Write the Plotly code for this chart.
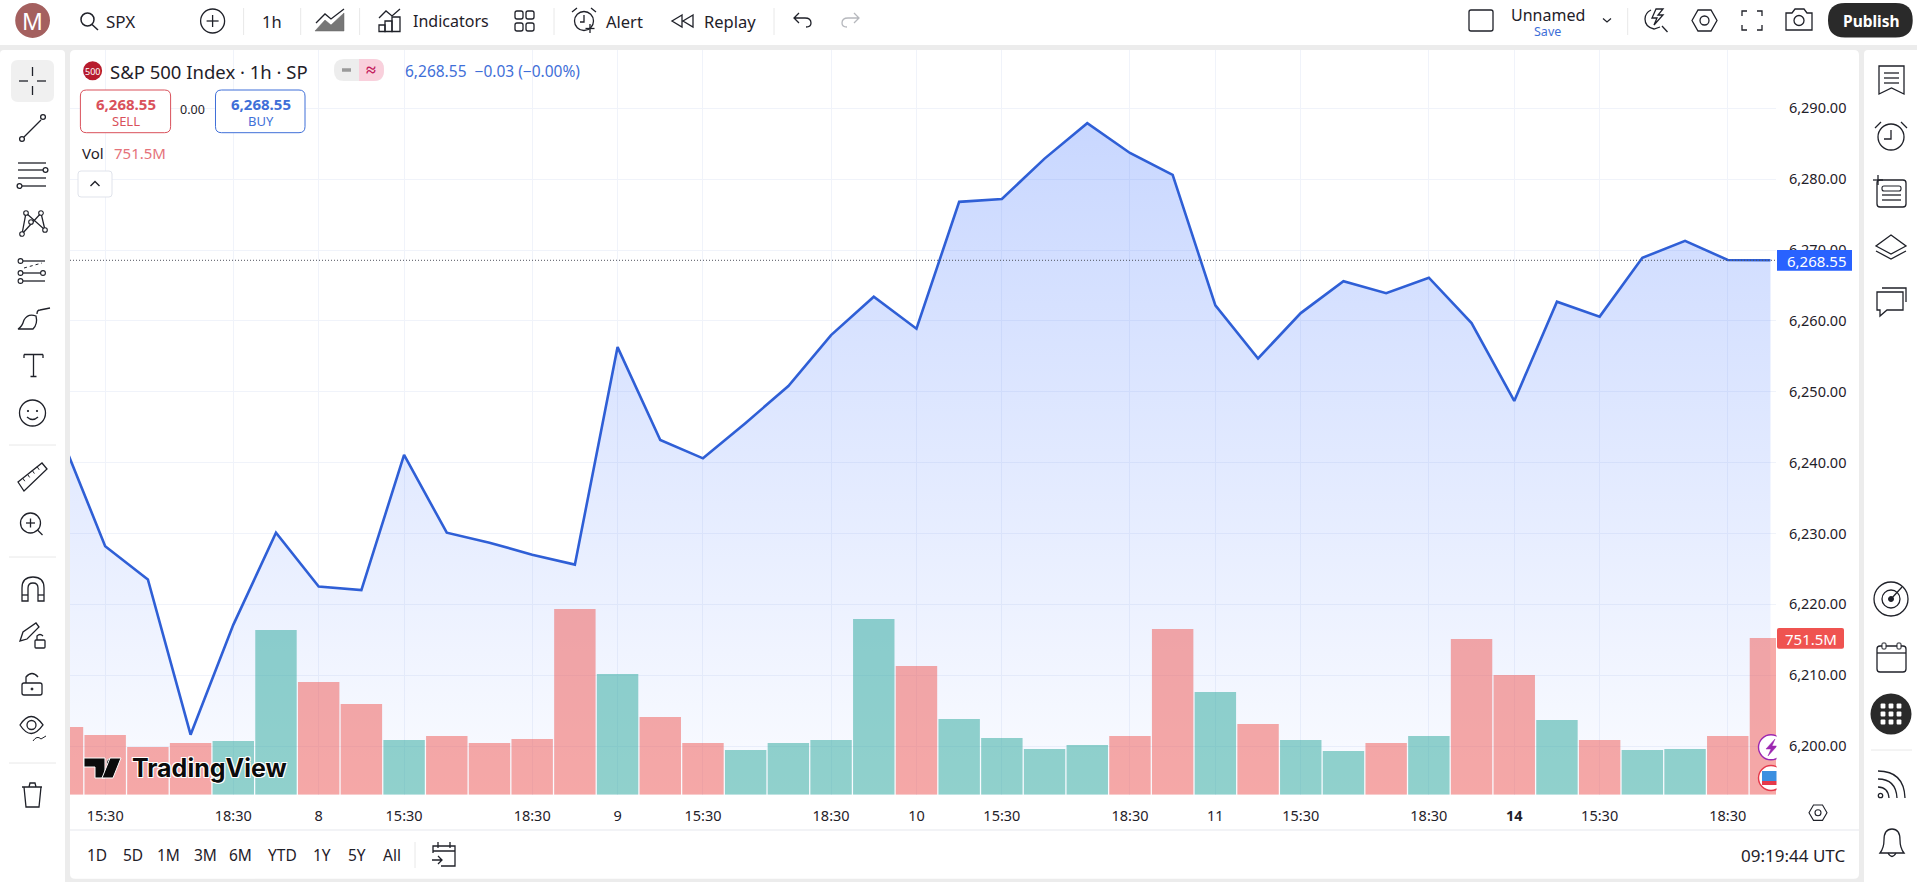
import re
import plotly.graph_objects as go

# hourly S&P 500 closes and volumes (millions)
close = [6243.2, 6228.2, 6223.5, 6201.6, 6217.1, 6230.1, 6222.5, 6222.0, 6241.1, 6230.1,
         6228.7, 6227.0, 6225.6, 6256.3, 6243.2, 6240.6, 6245.6, 6250.8, 6258.0, 6263.4,
         6258.9, 6276.8, 6277.2, 6282.9, 6287.9, 6283.7, 6280.6, 6262.2, 6254.7, 6261.1,
         6265.6, 6263.9, 6266.1, 6259.7, 6248.7, 6262.7, 6260.6, 6268.9, 6271.3, 6268.6, 6268.55]
volume = [325, 286, 229, 248, 258, 790, 540, 435, 262, 281,
          248, 267, 891, 579, 373, 248, 214, 248, 262, 843,
          617, 363, 272, 219, 238, 281, 795, 493, 339, 262,
          210, 248, 281, 747, 574, 358, 262, 214, 219, 281, 751.5]
vol_dir = ["d", "d", "d", "d", "u", "u", "d", "d", "u", "d",
           "d", "d", "d", "u", "d", "d", "u", "u", "u", "u",
           "d", "u", "u", "u", "u", "d", "d", "u", "d", "u",
           "u", "d", "u", "d", "d", "u", "d", "u", "u", "d", "d"]
time_ticks = [1, 4, 6, 8, 11, 13, 15, 18, 20, 22, 25, 27, 29, 32, 34, 36, 39]
time_labels = ["15:30", "18:30", "8", "15:30", "18:30", "9", "15:30", "18:30", "10",
               "15:30", "18:30", "11", "15:30", "18:30", "<b>14</b>", "15:30", "18:30"]
ranges = ["1D", "5D", "1M", "3M", "6M", "YTD", "1Y", "5Y", "All"]
range_x = [97, 133, 168, 205, 241, 282, 322, 357, 392]

W, H = 1917, 882
LEFT, RIGHT, TOP, BOTTOM = 70, 1776, 50, 794.7
FONT = "Noto Sans"
INK = "#1f2129"
GRID = "#f0f3fa"
BLUE = "#2962ff"
RED = "#ef5350"
PANEL_GAP = "#ececec"


def X(px):
    return px / W


def Y(py):
    return 1 - py / H


def P(d):
    # path written in screen pixels -> paper coordinates
    return re.sub(r"(-?[\d.]+) (-?[\d.]+)",
                  lambda m: f"{X(float(m[1])):.6f},{Y(float(m[2])):.6f}", d)


shapes = []
notes = []


def path(d, color=INK, width=1.3, fill=None, layer="above"):
    shapes.append(dict(type="path", xref="paper", yref="paper", path=P(d), layer=layer,
                       line=dict(color=color, width=width), fillcolor=fill or "rgba(0,0,0,0)"))


def seg(x0, y0, x1, y1, color=INK, width=1.3, dash="solid"):
    shapes.append(dict(type="line", xref="paper", yref="paper", layer="above",
                       x0=X(x0), x1=X(x1), y0=Y(y0), y1=Y(y1),
                       line=dict(color=color, width=width, dash=dash)))


def ring(cx, cy, r, color=INK, width=1.3, fill=None):
    shapes.append(dict(type="circle", xref="paper", yref="paper", layer="above",
                       x0=X(cx - r), x1=X(cx + r), y0=Y(cy + r), y1=Y(cy - r),
                       line=dict(color=color, width=width), fillcolor=fill or "rgba(0,0,0,0)"))


def box(x0, y0, x1, y1, r=0, color=INK, width=1.3, fill=None, layer="above"):
    d = (f"M{x0 + r} {y0} L{x1 - r} {y0} Q{x1} {y0} {x1} {y0 + r} L{x1} {y1 - r} "
         f"Q{x1} {y1} {x1 - r} {y1} L{x0 + r} {y1} Q{x0} {y1} {x0} {y1 - r} "
         f"L{x0} {y0 + r} Q{x0} {y0} {x0 + r} {y0} Z")
    path(d, color, width, fill, layer)


def label(x, y, text, size=14, color=INK, anchor="center", family=FONT, shadow=None):
    font = dict(size=size, color=color, family=family)
    if shadow:
        font["shadow"] = shadow
    notes.append(dict(xref="paper", yref="paper", x=X(x), y=Y(y), text=text, showarrow=False,
                      xanchor=anchor, yanchor="middle", borderpad=0, font=font))


# panels behind the chart
box(0, 0, W, 45, 0, "white", 0, "white", "below")
box(0, 50, 65, H + 5, 4, "white", 0, "white", "below")
box(LEFT, 50, 1859, 878.7, 5, "white", 0, "white", "below")
box(1864, 50, W + 5, H + 5, 4, "white", 0, "white", "below")

# top toolbar
ring(32.6, 20.5, 17.4, "#a4605f", 0, "#a4605f")
label(32.6, 20.5, "M", 23, "white")
ring(87.5, 19.5, 6.5, INK, 1.5)
seg(92, 24.5, 98, 30, INK, 1.5)
label(105, 21, "SPX", 17, anchor="left")
ring(212.6, 21, 12)
seg(212.6, 15, 212.6, 27)
seg(206.6, 21, 218.6, 21)
for sx in [243.6, 300.7, 359.6, 554, 774, 1627.7]:
    seg(sx, 8, sx, 35, "#e8e8e8", 1)
label(272, 21, "1h", 16.5)
path("M315 31 L325 20 L331 25 L344 13 L344 31 Z", "#666", 0.5, "#777")
path("M316 23 L325 14 L331 19 L344 9", INK, 1.3)
path("M379 18 L386 11 L392 16 L400 9", INK, 1.3)
box(379, 25, 385, 31.5, 0)
box(385, 21, 392, 31.5, 0)
box(392, 17, 400, 31.5, 0)
label(412, 21, "Indicators", 16, anchor="left")
for bx in [515, 526]:
    for by in [11, 23]:
        box(bx, by, bx + 8, by + 8, 2)
ring(584, 21, 9.5)
path("M584 15 L584 22 L580 22")
path("M572 12 L577 8 M596 12 L591 8")
seg(590, 24, 590, 33)
seg(585.5, 28.5, 594.5, 28.5)
label(605, 21, "Alert", 16.5, anchor="left")
path("M693 15 L683 21 L693 27 Z M682 15 L672 21 L682 27 Z")
label(703, 21, "Replay", 16.5, anchor="left")
path("M799 13 L794 18 L799 23 M794 18 L805 18 Q811 18 811 23 Q811 27 806 27")
path("M854 13 L859 18 L854 23 M859 18 L848 18 Q842 18 842 23 Q842 27 847 27", "#b6b8bd")
box(1469, 10, 1493, 31, 2)
label(1547.5, 15, "Unnamed", 16)
label(1547, 31, "Save", 12.5, "#3f6fd8")
path("M1603 18.5 L1607 22 L1611 18.5", INK, 1.2)
path("M1651 10 Q1645 13 1645 19 Q1645 27 1654 29 L1660 27")
path("M1656 9 L1652 18 L1657 18 L1654 25 L1663 15 L1658 15 L1663 9 Z")
seg(1662, 26, 1667.5, 32)
path("M1692 20.5 L1698 10 L1711 10 L1717 20.5 L1711 31 L1698 31 Z")
ring(1704.5, 20.5, 4.5)
path("M1742 16 L1742 11 L1747 11 M1757 11 L1762 11 L1762 16 M1762 25 L1762 30 L1757 30 M1747 30 L1742 30 L1742 25")
path("M1786 13 L1792 13 L1795 9 L1804 9 L1807 13 L1812 13 L1812 30 L1786 30 Z")
ring(1799, 20.5, 5)
box(1828, 3, 1912.7, 37.6, 17, "#2a2a2a", 0, "#2a2a2a")
label(1871, 21, "<b>Publish</b>", 15.5, "white")

# left toolbar
box(11, 60, 54, 102, 7, "#f0f0f0", 0, "#f0f0f0")
for a, b, c, d in [(32.5, 67, 32.5, 76), (32.5, 86, 32.5, 95), (19, 81, 28, 81), (37, 81, 46, 81)]:
    seg(a, b, c, d)
seg(24, 137, 41, 120)
ring(22, 139, 2.4)
ring(43, 117, 2.4)
seg(18, 163, 46, 163)
seg(18, 170, 43, 170)
ring(45.5, 170, 2.4)
seg(18, 178, 46, 178)
seg(22, 186, 46, 186)
ring(19.5, 186, 2.4)
path("M22 234 L26 213 L45 230 L41 213 L22 234")
for cx, cy in [(22, 234), (26, 213), (41, 213), (45, 230), (31, 222)]:
    ring(cx, cy, 2.3, INK, 1.1, "white")
seg(23, 261, 45, 261)
seg(23, 273, 45, 273)
seg(23, 281, 45, 281)
seg(24, 268, 42, 263, INK, 1, "dot")
for cx, cy in [(20.5, 261), (20.5, 273), (43, 273), (20.5, 281)]:
    ring(cx, cy, 2.4, INK, 1.1, "white")
path("M18 329 Q22 327 24 320 Q28 313 36 316 Q38 324 33 329 Z")
path("M37 314 Q37 310 40 310 L50 308")
path("M24 354.5 L43 354.5 M33.5 354.5 L33.5 376.5 M30.5 376.5 L36.5 376.5 M24 354.5 L24 358 M43 354.5 L43 358")
ring(32.5, 413, 13)
ring(28, 411, 0.7, INK, 1, INK)
ring(37, 411, 0.7, INK, 1, INK)
path("M27 417 Q32.5 422 38 417")
for sy in [445, 557, 763]:
    seg(9, sy, 56, sy, "#e8e8e8", 1)
path("M18 482 L42 463 L47 469 L24 491 Z")
for t in [0.2, 0.4, 0.6, 0.8]:
    seg(18 + 24 * t, 482 - 19 * t, 18 + 24 * t + 2, 482 - 19 * t + 3, INK, 1)
ring(30.5, 523, 10)
seg(37.5, 530, 42.5, 535)
seg(30.5, 518.5, 30.5, 527.5)
seg(26, 523, 35, 523)
path("M22 601 L22 588 Q22 577 33 577 Q44 577 44 588 L44 601 L38 601 L38 588 Q38 583 33 583 Q28 583 28 588 L28 601 Z")
seg(22, 595, 28, 595)
seg(38, 595, 44, 595)
path("M20 641 L23 632 L36 623 L39 627 L27 639 Z")
box(35, 640, 45, 648, 1)
path("M37 640 L37 636 Q40 633 43 636")
box(22, 683, 42, 695, 2)
path("M26 683 L26 677 Q32 670 38 677")
ring(32, 689, 1, INK, 1, INK)
path("M20 725 Q31 708 43 725 Q31 742 20 725 Z")
ring(31.5, 725, 4.5)
path("M33 741 Q37 735 41 739 L46 736", INK, 1)
path("M22 787 L42 787 M29 787 L30 783 L35 783 L36 787 M24 787 L26 807 L39 807 L41 787")

# right toolbar
path("M1879 66 L1904 66 L1904 94 L1891.5 88 L1879 94 Z")
for ly in [73, 78, 83]:
    seg(1884, ly, 1899, ly)
ring(1891, 137, 13)
path("M1891 130 L1891 139 L1884 139")
path("M1875 128 L1881 122 M1907 128 L1901 122")
box(1877, 180, 1906, 207, 3)
box(1882, 186, 1901, 191, 2, INK, 1.1)
seg(1882, 195, 1901, 195)
seg(1882, 200, 1901, 200)
seg(1873, 180, 1883, 180)
seg(1878, 175, 1878, 185)
path("M1891 235 L1906 246 L1891 254 L1876 246 Z")
path("M1876 251 L1891 259 L1906 251")
path("M1877 292 L1903 292 L1903 310 L1887 310 L1880 316 L1880 310 L1877 310 Z")
path("M1882 288 L1906 288 L1906 302")
ring(1891, 599, 17)
ring(1891, 599, 9)
ring(1891, 599, 2.5, INK, 1, INK)
seg(1891, 599, 1902, 587)
box(1877, 646, 1906, 672, 3)
seg(1877, 653, 1906, 653)
box(1882, 643, 1886, 649, 1, INK, 1, "white")
box(1897, 643, 1901, 649, 1, INK, 1, "white")
ring(1891, 714, 20.5, "#2a2a2a", 0, "#2a2a2a")
for dx in [-8, 0, 8]:
    for dy in [-8, 0, 8]:
        box(1891 + dx - 2.4, 714 + dy - 2.4, 1891 + dx + 2.4, 714 + dy + 2.4, 1, "white", 0, "white")
seg(1871, 750, 1912, 750, "#e8e8e8", 1)
ring(1880.5, 795.5, 2.2)
path("M1878 787 Q1888 787 1889 798 M1878 779 Q1896 779 1897 798 M1878 771 Q1904 771 1905 798")
path("M1880 853 Q1884 848 1884 840 Q1884 829 1892 829 Q1900 829 1900 840 Q1900 848 1904 853 Z")
path("M1888 853 Q1892 860 1896 853")

# legend block over the chart
ring(92.6, 70.7, 9.5, "#b71c2e", 0, "#b71c2e")
label(92.6, 71, "500", 9, "white")
label(108.5, 71, "S&P 500 Index · 1h · SP", 18.5, anchor="left")
box(334, 59, 384, 81, 10, "#ededed", 0, "#ededed")
path("M359 59 L374 59 Q384 59 384 70 Q384 81 374 81 L359 81 Z", "#f9d0dc", 0, "#f9d0dc")
seg(342, 70, 351, 70, "#9a9a9a", 3.5)
label(371, 69.5, "<b>≈</b>", 18, "#c2185b")
label(404, 71, f"{close[-1]:,.2f}  −0.03 (−0.00%)", 15.5, "#3f6fd8", "left")
box(80.4, 90, 170.6, 132.7, 6, "#d9515b", 1, "white")
label(125.5, 104, f"<b>{close[-1]:,.2f}</b>", 15, "#d9515b")
label(125.5, 121, "SELL", 13, "#d9515b")
label(192.6, 110, "0.00", 12.5)
box(215.5, 90, 305, 132.7, 6, "#3f6fd8", 1, "white")
label(260.5, 104, f"<b>{close[-1]:,.2f}</b>", 15, "#3f6fd8")
label(260.5, 121, "BUY", 13, "#3f6fd8")
label(81, 153, "Vol", 15, anchor="left")
label(113, 153, f"{volume[-1]}M", 15, "#e5727a", "left")
box(78, 171, 112, 197, 3, "#e0e3eb", 1, "white")
path("M90.5 186 L95 181.5 L99.5 186", INK, 1.4)

# TradingView mark
path("M84 758 L105 758 L105 778 L95 778 L95 767 L84 767 Z", "white", 1, "#0b0b0b")
ring(110.5, 762.5, 4, "white", 1, "#0b0b0b")
path("M113 778 L121 758 L110 758 L102 778 Z", "white", 1, "#0b0b0b")
label(131, 768, "<b>TradingView</b>", 25, "#0b0b0b", "left", "Inter",
      "1px 1px 0 white, -1px -1px 0 white, 1px -1px 0 white, -1px 1px 0 white")

# status and range bar
seg(LEFT, 830, 1859, 830, "#e6e8ee", 1.2)
for name, rx in zip(ranges, range_x):
    label(rx, 855, name, 15.5)
seg(415, 842, 415, 868, "#e8e8e8", 1)
path("M433 853 L433 846 L455 846 L455 866 L441 866 M433 851 L455 851 M438 842 L438 848 M450 842 L450 848")
path("M432 860 L442 860 M438 856 L442 860 L438 864")
label(1845.7, 855, "09:19:44 UTC", 17, anchor="right")
path("M1809 812.7 L1813.5 805 L1822.5 805 L1827 812.7 L1822.5 820.4 L1813.5 820.4 Z", INK, 1.1)
ring(1818, 812.7, 3, INK, 1.1)

# event badges sit on the last bar and get cut by the price scale
ring(1771, 747.3, 12.5, "#9c27b0", 1.4, "white")
path("M1775 739 L1766 749 L1771 749 L1768 756 L1777 746 L1772 746 Z", "#9c27b0", 0.5, "#9c27b0")
ring(1771, 778, 12.5, "#e5394b", 1.4, "white")
box(1762, 771, 1778, 781, 0, "#3b8fe0", 0, "#3b8fe0")
box(1762, 781, 1778, 785, 0, "#e5394b", 0, "#e5394b")
box(1776.5, 733, 1785, 793, 0, "white", 0, "white")

# price line and last value tags
shapes.append(dict(type="line", xref="paper", yref="y", layer="above",
                   x0=X(LEFT), x1=X(RIGHT), y0=close[-1], y1=close[-1],
                   line=dict(color="#50535e", width=1, dash="1px,2px")))
box(1777, 250, 1852, 270.7, 0, BLUE, 0, BLUE)
label(1816.5, 260.5, f"{close[-1]:,.2f}", 15, "white")
box(1777, 628, 1844, 648.7, 2, RED, 0, RED)
label(1810.5, 638.5, f"{volume[-1]}M", 15, "white")

idx = list(range(len(close)))
bar_colors = ["rgba(38,166,154,0.5)" if v == "u" else "rgba(239,83,80,0.5)" for v in vol_dir]

fig = go.Figure()
fig.add_trace(go.Scatter(x=idx, y=close, mode="lines", line=dict(color="#2f5fd6", width=2.6),
                         fill="tozeroy", yaxis="y", hoverinfo="skip",
                         fillgradient=dict(type="vertical", start=6290, stop=6193,
                                           colorscale=[[0, "rgba(41,98,255,0.26)"],
                                                       [1, "rgba(41,98,255,0.02)"]])))
fig.add_trace(go.Bar(x=idx, y=volume, marker=dict(color=bar_colors, line=dict(width=0)),
                     yaxis="y2", hoverinfo="skip"))

fig.update_layout(
    width=W, height=H, margin=dict(l=0, r=0, t=0, b=0), showlegend=False,
    paper_bgcolor=PANEL_GAP, plot_bgcolor="rgba(0,0,0,0)", bargap=0.03,
    font=dict(family=FONT, color=INK),
    xaxis=dict(domain=[X(LEFT), X(RIGHT)], range=[0.176, 40.13], tickmode="array",
               tickvals=time_ticks, ticktext=time_labels, showgrid=True, gridcolor=GRID,
               gridwidth=1, zeroline=False, showline=False, ticks="outside", ticklen=8,
               tickcolor="rgba(0,0,0,0)", tickfont=dict(size=14.5, color="#1f2129"), tickangle=0),
    yaxis=dict(domain=[Y(BOTTOM), Y(TOP)], range=[6193.13, 6298.23], side="right", dtick=10,
               tickformat=",.2f", showgrid=True, gridcolor=GRID, gridwidth=1, zeroline=False,
               showline=False, ticks="outside", ticklen=9, tickcolor="rgba(0,0,0,0)",
               tickfont=dict(size=14.5, color="#1f2129"), anchor="x"),
    yaxis2=dict(domain=[Y(BOTTOM), Y(TOP)], range=[0, 3571], overlaying="y", visible=False),
    shapes=shapes, annotations=notes,
)

fig.write_html("out.html", config={"displayModeBar": False},
               post_script="document.body.style.margin='0';document.body.style.overflow='hidden';")
